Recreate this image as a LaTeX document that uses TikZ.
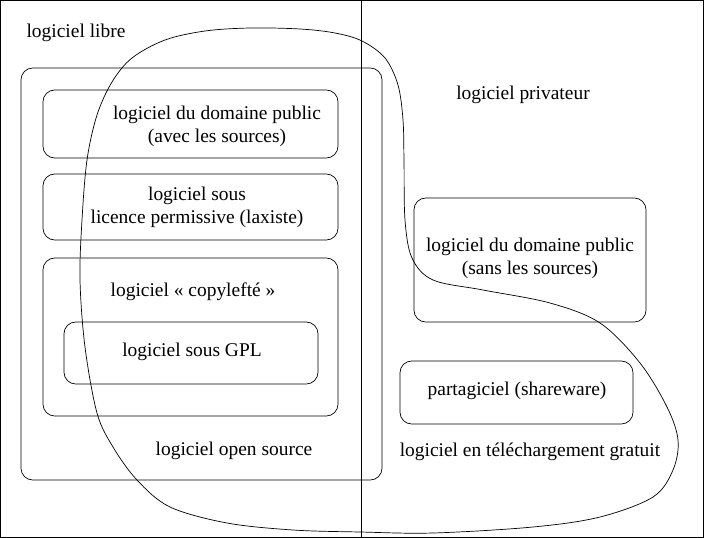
\documentclass[tikz,border=0pt]{standalone}
\usepackage{fontspec}
\setmainfont{Liberation Serif}
\begin{document}
\begin{tikzpicture}[x=0.03cm,y=-0.03cm,line width=0.6pt,
  font=\fontsize{16.6}{19.6}\selectfont]
\tikzset{box/.style={draw,shape=rectangle,rounded corners=10pt,inner sep=0pt,outer sep=0pt}}
\tikzset{lbl/.style={align=center,inner sep=0pt}}
\useasboundingbox (0,0) rectangle (704,538);
\draw (0.5,0.5) rectangle (703.5,537.5);
\coordinate (mtop) at (361,0.5);
\coordinate (mbot) at (361,537.5);
\draw (mtop)--(mbot);
% left half
\node [lbl,name=libre] at (76,33){logiciel libre};
\node [box,minimum width=10.83cm,minimum height=12.36cm,name=open] at (201.5,274){};
\node [box,minimum width=8.85cm,minimum height=2.04cm,name=pubsrc] at (190.5,124){};
\node [box,minimum width=8.85cm,minimum height=1.98cm,name=perm] at (190.5,207){};
\node [box,minimum width=8.85cm,minimum height=4.74cm,name=copy] at (190.5,337){};
\node [box,minimum width=7.62cm,minimum height=1.86cm,name=gpl] at (191,353){};
\node [lbl,name=pubsrctxt] at (217,126){logiciel du domaine public\\(avec les sources)};
\node [lbl,name=permtxt] at (197,207){logiciel sous\\licence permissive (laxiste)};
\node [lbl,name=copytxt] at (193,292){logiciel «~copylefté~»};
\node [lbl,name=gpltxt] at (192,352){logiciel sous GPL};
\node [lbl,name=opentxt] at (234,451){logiciel open source};
% right half
\node [lbl,name=priv] at (523,95){logiciel privateur};
\node [box,minimum width=6.96cm,minimum height=3.72cm,name=dom] at (530,260){};
\node [box,minimum width=6.99cm,minimum height=1.89cm,name=share] at (516.5,392.5){};
\node [lbl,name=domtxt] at (530,258){logiciel du domaine public\\(sans les sources)};
\node [lbl,name=sharetxt] at (517,391){partagiciel (shareware)};
\node [lbl,name=gratuit] at (530,452){logiciel en téléchargement gratuit};
% free download
\draw plot [smooth cycle,tension=0.55] coordinates {(205,31) (250,28) (300,29) (335,33)
  (362,41) (385,58) (398,85) (403,120) (404,160) (405,220) (412,258) (433,280) (483,290)
  (550,303) (600,323) (640,363) (667,407) (678,440) (673,470) (653,497) (600,517)
  (533,527) (433,533) (360,532) (293,530) (227,523) (170,507) (137,480) (113,447)
  (97,413) (85,347) (80,280) (82,220) (87,160) (97,115) (112,82) (132,58) (165,40)};
\end{tikzpicture}
\end{document}
